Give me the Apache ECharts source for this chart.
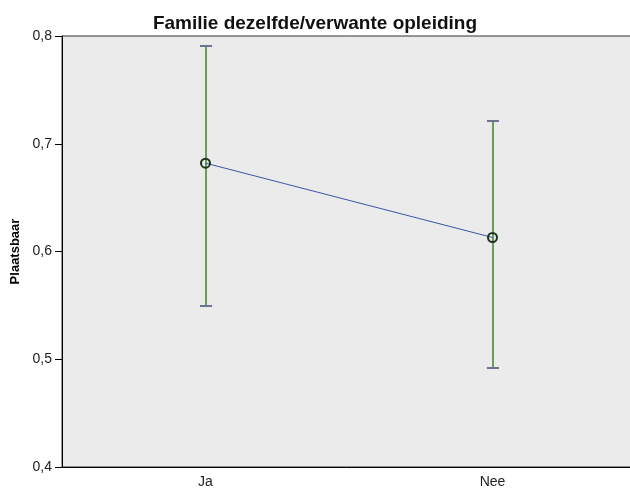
<!DOCTYPE html>
<html>
<head>
<meta charset="utf-8">
<script src="https://cdn.jsdelivr.net/npm/echarts@6/dist/echarts.min.js"></script>
<style>html,body{margin:0;padding:0;background:#fff}#c{width:630px;height:493px}</style>
</head>
<body>
<div id="c"></div>
<script>
var categories = ['Ja', 'Nee'];
var means = [0.682, 0.613];
var lower = [0.549, 0.492];
var upper = [0.791, 0.721];
var yTicks = [0.4, 0.5, 0.6, 0.7, 0.8];

var chart = echarts.init(document.getElementById('c'), null, {renderer: 'canvas'});
var errData = categories.map(function (c, i) { return [i, lower[i], upper[i]]; });

function barItem(params, api) {
  var x = api.value(0);
  var lo = api.coord([x, api.value(1)]);
  var hi = api.coord([x, api.value(2)]);
  var cx = Math.round(lo[0]);
  var top = Math.round(hi[1]);
  var bot = Math.round(lo[1]);
  return {type: 'rect', shape: {x: cx - 1, y: top, width: 2, height: bot - top}, style: {fill: '#64a055'}};
}
function capItem(params, api) {
  var x = api.value(0);
  var lo = api.coord([x, api.value(1)]);
  var hi = api.coord([x, api.value(2)]);
  var cx = Math.round(lo[0]);
  var hw = 5;
  var top = Math.round(hi[1]);
  var bot = Math.round(lo[1]);
  return {
    type: 'group',
    children: [
      {type: 'rect', shape: {x: cx - hw - 1, y: top - 1, width: 2 * hw + 2, height: 2}, style: {fill: '#707090'}},
      {type: 'rect', shape: {x: cx - hw - 1, y: bot - 1, width: 2 * hw + 2, height: 2}, style: {fill: '#707090'}}
    ]
  };
}

chart.setOption({
  animation: false,
  backgroundColor: '#ffffff',
  title: {
    text: 'Familie dezelfde/verwante opleiding',
    left: 'center', top: 9,
    textStyle: {fontFamily: 'Liberation Sans, Arial', fontWeight: 'bold', fontSize: 19, color: '#111'}
  },
  grid: {
    left: 62, top: 36, width: 574, height: 431,
    outerBoundsMode: 'none', containLabel: false,
    show: true, backgroundColor: '#ebebeb', borderColor: '#333', borderWidth: 1
  },
  xAxis: {
    type: 'category', data: categories,
    axisLine: {lineStyle: {color: '#000', width: 1}},
    axisTick: {alignWithLabel: true, length: 6, lineStyle: {color: '#000'}},
    axisLabel: {color: '#222', fontFamily: 'Liberation Sans, Arial', fontSize: 14, margin: 8}
  },
  yAxis: {
    type: 'value', min: yTicks[0], max: yTicks[yTicks.length - 1], interval: 0.1,
    name: 'Plaatsbaar', nameLocation: 'middle', nameGap: 31, nameRotate: 90,
    nameTextStyle: {fontFamily: 'Liberation Sans, Arial', fontWeight: 'bold', fontSize: 13, color: '#000'},
    axisLine: {show: true, lineStyle: {color: '#000', width: 1}},
    axisTick: {show: true, length: 7, lineStyle: {color: '#000'}},
    splitLine: {show: false},
    axisLabel: {
      color: '#222', fontFamily: 'Liberation Sans, Arial', fontSize: 14, margin: 10,
      formatter: function (v) { return v.toFixed(1).replace('.', ','); }
    }
  },
  series: [
    {type: 'custom', data: errData, z: 2, clip: false, renderItem: barItem, itemStyle: {color: '#64a055'}},
    {type: 'custom', data: errData, z: 2, clip: false, renderItem: capItem, itemStyle: {color: '#707090'}},
    {
      type: 'line',
      data: means,
      z: 3,
      lineStyle: {color: '#3a56a8', width: 1},
      symbol: 'circle', symbolSize: 9,
      itemStyle: {color: 'rgba(0,0,0,0)', borderColor: '#1c331c', borderWidth: 2}
    }
  ]
});
</script>
</body>
</html>
